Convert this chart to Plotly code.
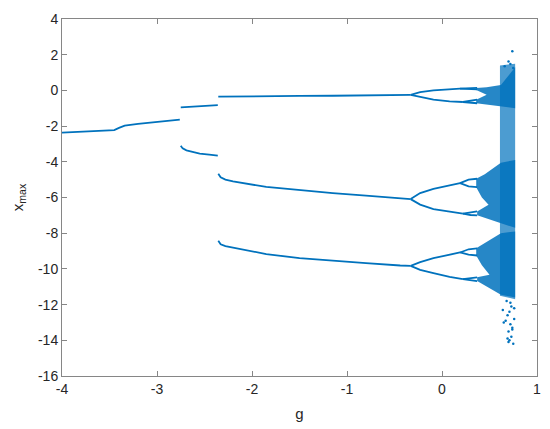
import plotly.graph_objects as go

BLUE = "#0072BD"

# ---- periodic branches (g, x_max) ----
g_p1 = [-4.0, -3.70, -3.45, -3.40, -3.34, -3.20, -3.00, -2.76]
x_p1 = [-2.37, -2.31, -2.22, -2.10, -1.97, -1.88, -1.77, -1.64]

g_p2_up = [-2.75, -2.55, -2.36]
x_p2_up = [-0.95, -0.89, -0.83]
g_p2_lo = [-2.75, -2.73, -2.69, -2.62, -2.55, -2.45, -2.36]
x_p2_lo = [-3.10, -3.25, -3.36, -3.46, -3.54, -3.60, -3.66]

g_p3 = [-2.355, -2.33, -2.28, -2.20, -1.85, -1.50, -1.15, -0.80, -0.44, -0.33]
x_p3_top = [-0.35, -0.35, -0.34, -0.34, -0.32, -0.31, -0.30, -0.28, -0.26, -0.25]
x_p3_mid = [-4.67, -4.87, -5.00, -5.10, -5.41, -5.60, -5.75, -5.90, -6.05, -6.09]
x_p3_low = [-8.42, -8.62, -8.72, -8.80, -9.17, -9.40, -9.55, -9.68, -9.81, -9.83]

# period doubling after g ~ -0.33
g_pd_a = [-0.33, -0.23, -0.09, 0.08, 0.19]
g_pd_b = [-0.33, -0.23, -0.09, 0.08, 0.22]
x_top_up = [-0.25, -0.10, 0.00, 0.06, 0.10]
x_top_lo = [-0.25, -0.37, -0.52, -0.61, -0.65]
x_mid_up = [-6.09, -5.75, -5.52, -5.34, -5.19]
x_mid_lo = [-6.09, -6.40, -6.65, -6.81, -6.90]
x_low_up = [-9.83, -9.62, -9.40, -9.20, -9.08]
x_low_lo = [-9.83, -10.05, -10.24, -10.45, -10.57]

# second doubling (small eyes)
g_eye_a = [0.19, 0.28, 0.37]
g_eye_b = [0.22, 0.30, 0.37]
x_top_up_eye = ([0.10, 0.13, 0.14], [0.10, 0.07, 0.06])
x_top_lo_eye = ([-0.65, -0.56, -0.52], [-0.65, -0.70, -0.72])
x_mid_up_eye = ([-5.19, -5.00, -4.95], [-5.19, -5.38, -5.42])
x_mid_lo_eye = ([-6.90, -6.82, -6.78], [-6.90, -6.98, -7.00])
x_low_up_eye = ([-9.08, -8.90, -8.85], [-9.08, -9.20, -9.25])
x_low_lo_eye = ([-10.57, -10.50, -10.47], [-10.57, -10.65, -10.68])

# ---- chaotic bands (outline vertices) ----
chaos_top_g = [0.36, 0.47, 0.62, 0.77, 0.77, 0.62, 0.45, 0.36, 0.36, 0.47, 0.36]
chaos_top_x = [0.14, 0.18, 0.30, 1.30, -1.00, -0.90, -0.78, -0.72, -0.52, -0.24, 0.02]
chaos_mid_g = [0.36, 0.45, 0.62, 0.77, 0.77, 0.62, 0.45, 0.37, 0.37, 0.49, 0.42, 0.36]
chaos_mid_x = [-4.95, -4.70, -4.05, -3.90, -7.70, -7.45, -7.15, -7.00, -6.78, -6.40, -6.00, -5.42]
chaos_low_g = [0.36, 0.45, 0.62, 0.77, 0.77, 0.62, 0.45, 0.37, 0.37, 0.50, 0.42, 0.36]
chaos_low_x = [-8.85, -8.55, -8.00, -7.90, -11.60, -11.45, -10.95, -10.68, -10.47, -10.33, -9.80, -9.25]
column_g = [0.61, 0.77, 0.77, 0.61]
column_x = [1.40, 1.50, -11.70, -11.50]

# scattered points outside the bands
out_g = [0.74, 0.70, 0.72, 0.66, 0.75, 0.68, 0.73, 0.71, 0.69, 0.76,
         0.67, 0.72, 0.74, 0.70, 0.65, 0.73, 0.71, 0.75, 0.69, 0.72,
         0.64, 0.76, 0.70, 0.74]
out_x = [2.20, 1.62, 1.48, 1.35, 1.25, -11.8, -12.1, -12.4, -12.6, -12.2,
         -12.9, -13.1, -13.3, -13.5, -13.0, -13.8, -14.0, -14.2, -13.9, -11.9,
         -12.3, -12.8, -14.1, -13.4]

x_ticks = [-4, -3, -2, -1, 0, 1]
y_ticks = list(range(-16, 5, 2))

fig = go.Figure()


def add_line(g, x):
    fig.add_trace(go.Scatter(x=g, y=x, mode="lines",
                             line=dict(color=BLUE, width=1.8),
                             hoverinfo="skip", showlegend=False))


def add_patch(g, x, opacity):
    fig.add_trace(go.Scatter(x=g, y=x, mode="lines", fill="toself",
                             fillcolor=BLUE, line=dict(width=0),
                             opacity=opacity, hoverinfo="skip",
                             showlegend=False))


add_patch(column_g, column_x, 0.7)
add_patch(chaos_top_g, chaos_top_x, 0.85)
add_patch(chaos_mid_g, chaos_mid_x, 0.85)
add_patch(chaos_low_g, chaos_low_x, 0.85)

add_line(g_p1, x_p1)
add_line(g_p2_up, x_p2_up)
add_line(g_p2_lo, x_p2_lo)
add_line(g_p3, x_p3_top)
add_line(g_p3, x_p3_mid)
add_line(g_p3, x_p3_low)
for g, x in [(g_pd_a, x_top_up), (g_pd_b, x_top_lo), (g_pd_a, x_mid_up),
             (g_pd_b, x_mid_lo), (g_pd_a, x_low_up), (g_pd_b, x_low_lo)]:
    add_line(g, x)
for g, (xu, xl) in [(g_eye_a, x_top_up_eye), (g_eye_b, x_top_lo_eye),
                    (g_eye_a, x_mid_up_eye), (g_eye_b, x_mid_lo_eye),
                    (g_eye_a, x_low_up_eye), (g_eye_b, x_low_lo_eye)]:
    add_line(g, xu)
    add_line(g, xl)

fig.add_trace(go.Scatter(x=out_g, y=out_x, mode="markers",
                         marker=dict(color=BLUE, size=2.5),
                         hoverinfo="skip", showlegend=False))

font = dict(family="Liberation Sans", size=14, color="#262626")
axis_style = dict(showgrid=False, zeroline=False, showline=True,
                  linecolor="#868686", linewidth=1, mirror="ticks",
                  ticks="inside", ticklen=5, tickcolor="#868686",
                  tickfont=font, automargin=False)

# the page body adds an 8px offset, so margins are shifted to compensate
fig.update_layout(
    width=550, height=429,
    margin=dict(l=54, r=21, t=11, b=61),
    paper_bgcolor="white", plot_bgcolor="white",
    xaxis=dict(range=[-4, 1], tickvals=x_ticks,
               ticktext=[str(v) for v in x_ticks],
               title=dict(text="g", standoff=12, font=dict(font, size=15)),
               **axis_style),
    yaxis=dict(range=[-16, 4], tickvals=y_ticks,
               ticktext=[str(v) for v in y_ticks],
               title=dict(text="x<sub>max</sub>", standoff=10, font=dict(font, size=15)),
               **axis_style),
)

fig.write_html("out.html")
